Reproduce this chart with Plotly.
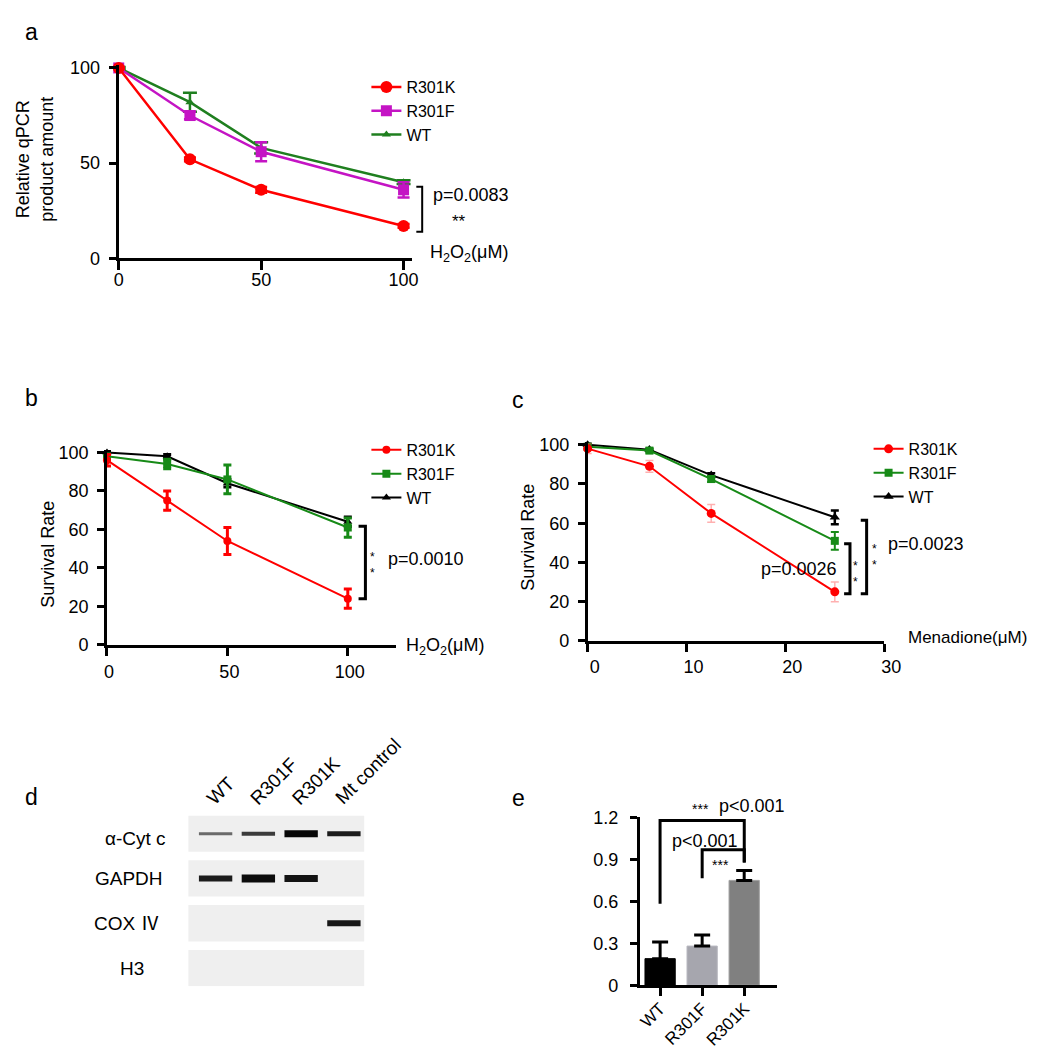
import plotly.graph_objects as go

W, H = 1044, 1050
FONT = "Arial, Liberation Sans, Noto Sans CJK SC, sans-serif"

# ---------------- data ----------------
# panel a
a_x = [0, 25, 50, 100]
a_R301K = [100, 52, 36, 17]
a_R301K_err = [0.5, 1, 1.5, 1]
a_R301F = [100, 75, 56, 36]
a_R301F_err = [0.5, 2, 5, 4]
a_WT = [100, 82, 58, 40]
a_WT_err = [0.5, 5, 3, 1]
a_xticks = [0, 50, 100]
a_yticks = [0, 50, 100]

# panel b
b_x = [0, 25, 50, 100]
b_R301K = [96, 75, 54, 24]
b_R301K_err = [3, 5, 7, 5]
b_R301F = [98, 94, 86, 61]
b_R301F_err = [1, 2.5, 7.5, 5]
b_WT = [100, 98, 84, 64]
b_WT_err = [0.5, 1, 2, 2.5]
b_xticks = [0, 50, 100]
b_yticks = [0, 20, 40, 60, 80, 100]

# panel c
c_x = [0, 6.25, 12.5, 25]
c_R301K = [98, 89, 65, 25]
c_R301K_err = [2.5, 3, 4.5, 5]
c_R301F = [99, 97, 82.5, 51]
c_R301F_err = [1, 1, 1.5, 4.5]
c_WT = [100, 97.5, 84.5, 63]
c_WT_err = [0.5, 0.5, 1, 3.5]
c_xticks = [0, 10, 20, 30]
c_yticks = [0, 20, 40, 60, 80, 100]

# panel d (western blot)
d_lanes = ["WT", "R301F", "R301K", "Mt control"]
d_rows = ["α-Cyt c", "GAPDH", "COX Ⅳ", "H3"]
d_intensity = [[0.55, 0.75, 0.97, 0.88],
               [0.88, 0.95, 0.92, 0.0],
               [0.0, 0.0, 0.0, 0.9],
               [0.0, 0.0, 0.0, 0.0]]
d_thickness = [[3, 4, 7, 5],
               [6, 8, 7, 0],
               [0, 0, 0, 6],
               [0, 0, 0, 0]]

# panel e
e_cats = ["WT", "R301F", "R301K"]
e_vals = [0.19, 0.28, 0.75]
e_err = [0.12, 0.08, 0.07]
e_yticks = [0, 0.3, 0.6, 0.9, 1.2]
e_yticktext = ["0", "0.3", "0.6", "0.9", "1.2"]

RED = "#ff0000"
MAG = "#c414c4"
GRN_A = "#1f7f1f"
GRN = "#178a17"
BLK = "#000000"


def dx(p0, p1):
    return [p0 / W, p1 / W]


def dy(top, bottom):
    return [1 - bottom / H, 1 - top / H]


def P(x, y):
    return x / W, 1 - y / H


fig = go.Figure()


def add_series(x, y, err, name, color, symbol, msize, lw, xa, ya, legend, rank,
               ecolor=None, ethick=2, ewidth=4):
    fig.add_trace(go.Scatter(
        x=x, y=y, name=name, mode="lines+markers",
        line=dict(color=color, width=lw),
        marker=dict(color=color, symbol=symbol, size=msize),
        error_y=dict(type="data", array=err, color=ecolor or color,
                     thickness=ethick, width=ewidth),
        xaxis=xa, yaxis=ya, legend=legend, legendrank=rank, cliponaxis=False))


# panel a
add_series(a_x, a_WT, a_WT_err, "WT", GRN_A, "triangle-up", 8, 2.5, "x", "y", "legend", 3, ethick=2.5, ewidth=7)
add_series(a_x, a_R301F, a_R301F_err, "R301F", MAG, "square", 11, 2.5, "x", "y", "legend", 2, ethick=2.5, ewidth=6)
add_series(a_x, a_R301K, a_R301K_err, "R301K", RED, "circle", 12, 2.5, "x", "y", "legend", 1, ethick=2.5, ewidth=6)

# panel b
add_series(b_x, b_WT, b_WT_err, "WT", BLK, "triangle-up", 8, 2, "x2", "y2", "legend2", 3, ethick=3, ewidth=4)
add_series(b_x, b_R301F, b_R301F_err, "R301F", GRN, "square", 8, 2, "x2", "y2", "legend2", 2, ethick=3, ewidth=4)
add_series(b_x, b_R301K, b_R301K_err, "R301K", RED, "circle", 8, 2, "x2", "y2", "legend2", 1, ethick=3, ewidth=4)

# panel c
add_series(c_x, c_WT, c_WT_err, "WT", BLK, "triangle-up", 9, 2, "x3", "y3", "legend3", 3, ethick=2.5, ewidth=4)
add_series(c_x, c_R301F, c_R301F_err, "R301F", GRN, "square", 8, 2, "x3", "y3", "legend3", 2, ethick=2, ewidth=4)
add_series(c_x, c_R301K, c_R301K_err, "R301K", RED, "circle", 9, 2, "x3", "y3", "legend3", 1,
           ecolor="rgba(255,80,80,0.45)", ethick=1.5, ewidth=4)

# panel d: blot bands
BAND_HALF = 0.39
for r, row in enumerate(d_rows):
    for l, lane in enumerate(d_lanes):
        inten = d_intensity[r][l]
        th = d_thickness[r][l]
        if inten <= 0 or th <= 0:
            continue
        g = int(round(235 * (1 - inten)))
        fig.add_trace(go.Scatter(
            x=[l - BAND_HALF, l + BAND_HALF], y=[r, r], mode="lines",
            line=dict(color=f"rgb({g},{g},{g})", width=th),
            xaxis="x4", yaxis="y4", showlegend=False, hoverinfo="skip"))

# panel e
fig.add_trace(go.Bar(
    x=e_cats, y=e_vals, width=0.72,
    marker=dict(color=["#000000", "#a6a6ae", "#808080"],
                line=dict(color=["#000000", "#b8b8c0", "#a0a0a0"], width=1)),
    error_y=dict(type="data", symmetric=False, array=e_err, arrayminus=[0] * len(e_err),
                 color="black", thickness=3, width=8),
    xaxis="x5", yaxis="y5", showlegend=False))

axis_common = dict(showgrid=False, zeroline=False, showline=True, linecolor="black",
                   ticks="outside", tickcolor="black", mirror=False)
tf18 = dict(size=18, color="black", family=FONT)

layout = dict(
    width=W, height=H, margin=dict(l=0, r=0, t=0, b=0),
    paper_bgcolor="white", plot_bgcolor="white",
    font=dict(family=FONT, size=18, color="black"),
    showlegend=True,
    # panel a
    xaxis=dict(domain=dx(108, 407.7), range=[0, 103], tickvals=a_xticks, anchor="y",
               linewidth=3, tickwidth=3, ticklen=9, ticklabelstandoff=-6, tickfont=tf18,
               **axis_common),
    yaxis=dict(domain=dy(48, 245), range=[0, 101.5], tickvals=a_yticks, anchor="x",
               linewidth=3, tickwidth=3, ticklen=7, ticklabelstandoff=5, tickfont=tf18,
               **axis_common),
    # panel b
    xaxis2=dict(domain=dx(96, 391.2), range=[0, 120], tickvals=b_xticks, anchor="y2",
                linewidth=2.5, tickwidth=2.5, ticklen=8, ticklabelstandoff=1, ticklabelshift=2,
                tickfont=tf18, **axis_common),
    yaxis2=dict(domain=dy(440, 639), range=[0, 101.5], tickvals=b_yticks, anchor="x2",
                linewidth=2.5, tickwidth=2.5, ticklen=7, ticklabelstandoff=5, tickfont=tf18,
                **axis_common),
    # panel c
    xaxis3=dict(domain=dx(587, 890), range=[0, 30], tickvals=c_xticks, anchor="y3",
                linewidth=2.5, tickwidth=2.5, ticklen=8, ticklabelstandoff=0, ticklabelshift=7,
                tickfont=tf18, **axis_common),
    yaxis3=dict(domain=dy(432, 635), range=[0, 101.5], tickvals=c_yticks, anchor="x3",
                linewidth=2.5, tickwidth=2.5, ticklen=7, ticklabelstandoff=5, tickfont=tf18,
                **axis_common),
    # panel d
    xaxis4=dict(domain=dx(179, 359), range=[-0.64, 3.48], visible=False, anchor="y4"),
    yaxis4=dict(domain=dy(813, 987), range=[3.405, -0.405], visible=False, anchor="x4"),
    # panel e
    xaxis5=dict(domain=dx(640, 780), range=[-0.49, 2.77], anchor="y5", tickangle=-45,
                linewidth=2.5, tickwidth=2.5, ticklen=8, ticklabelstandoff=-4,
                tickfont=dict(size=17, color="black", family=FONT), **axis_common),
    yaxis5=dict(domain=dy(815, 986), range=[0, 1.2], tickvals=e_yticks, ticktext=e_yticktext,
                anchor="x5", linewidth=2.5, tickwidth=2.5, ticklen=7, ticklabelstandoff=8,
                tickfont=tf18, **axis_common),
)

leg_common = dict(bgcolor="rgba(0,0,0,0)", borderwidth=0, font=dict(size=16, family=FONT),
                  xanchor="left", yanchor="top", tracegroupgap=0, itemwidth=30,
                  traceorder="normal")
lx, ly = P(361, 53)
layout["legend"] = dict(x=lx, y=ly, **leg_common)
lx, ly = P(361, 423)
layout["legend2"] = dict(x=lx, y=ly, **leg_common)
lx, ly = P(874, 422)
layout["legend3"] = dict(x=lx, y=ly, **leg_common)

fig.update_layout(**layout)

annotations = []


def txt(text, x, y, size=18, xanchor="center", yanchor="middle", angle=0):
    xx, yy = P(x, y)
    annotations.append(dict(text=text, x=xx, y=yy, xref="paper", yref="paper", showarrow=False,
                            xanchor=xanchor, yanchor=yanchor, textangle=angle,
                            font=dict(size=size, family=FONT, color="black")))


# panel letters
for letter, (x, y) in {"a": (19, 14), "b": (19, 387), "c": (516, 389),
                       "d": (19, 794), "e": (516, 795)}.items():
    txt(letter, x, y, size=23)

# panel a texts
txt("Relative qPCR<br>product amount", 22, 144, angle=-90)
txt("H<sub>2</sub>O<sub>2</sub>(μM)", 424, 240, xanchor="left")
txt("p=0.0083", 427, 180, xanchor="left")
txt("**", 456, 207, size=17)

# panel b texts
txt("Survival Rate", 35, 547, angle=-90)
txt("H<sub>2</sub>O<sub>2</sub>(μM)", 399, 641, xanchor="left")
txt("p=0.0010", 381, 552, xanchor="left")
txt("*<br>*", 367, 558, size=12)

# panel c texts
txt("Survival Rate", 526, 529, angle=-90)
txt("Menadione(μM)", 912, 632, size=17, xanchor="left")
txt("p=0.0026", 844, 562, xanchor="right")
txt("p=0.0023", 892, 536, xanchor="left")
txt("*<br>*", 861, 567, size=12)
txt("*<br>*", 880, 549, size=12)

# panel d texts
row_label_y = [836, 877, 923, 969]
row_label_x = [125, 118, 116, 122]
for name, x, y in zip(d_rows, row_label_x, row_label_y):
    txt(name, x, y, size=19)
for l, lane in enumerate(d_lanes):
    _, yy = P(0, 809)
    annotations.append(dict(text=lane, x=l - 0.36, y=yy, xref="x4", yref="paper",
                            showarrow=False, xanchor="left", yanchor="bottom", textangle=-45,
                            font=dict(size=19, family=FONT, color="black")))

# panel e texts
txt("***", 702, 806, size=14)
txt("p<0.001", 719, 803, xanchor="left")
txt("p<0.001", 671, 839, xanchor="left")
txt("***", 723, 863, size=14)

fig.update_layout(annotations=annotations)

shapes = []


def bracket(points, width):
    path = ""
    for i, (x, y) in enumerate(points):
        xx, yy = P(x, y)
        path += ("M" if i == 0 else "L") + f"{xx:.5f},{yy:.5f} "
    shapes.append(dict(type="path", path=path.strip(), xref="paper", yref="paper",
                       line=dict(color="black", width=width)))


bracket([(412, 172), (418, 172), (418, 218), (412, 218)], 2)
bracket([(353, 518), (360, 518), (360, 592), (353, 592)], 3)
bracket([(849, 536), (855, 536), (855, 587), (849, 587)], 3)
bracket([(866, 512), (872, 512), (872, 587), (866, 587)], 3)
bracket([(661, 903), (661, 818), (747, 818), (747, 861)], 3)
bracket([(704, 877), (704, 848), (747, 848), (747, 861)], 3)

# blot membrane backgrounds
for r in range(len(d_rows)):
    shapes.append(dict(type="rect", xref="x4", yref="y4", x0=-0.64, x1=3.48,
                       y0=r - 0.405, y1=r + 0.405, fillcolor="#efefef",
                       line=dict(width=0), layer="below"))

fig.update_layout(shapes=shapes)

fig.write_html("out.html")
